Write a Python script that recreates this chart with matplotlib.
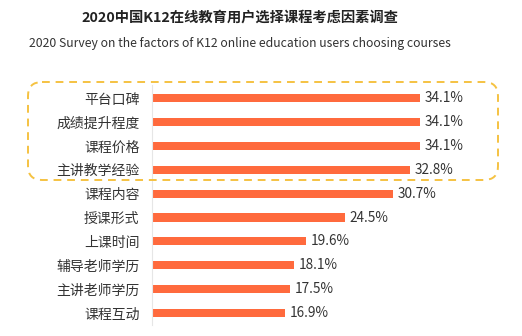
import matplotlib.pyplot as plt
from matplotlib.patches import FancyBboxPatch

# Survey factors and share of users (%)
factors = ["平台口碑", "成绩提升程度", "课程价格", "主讲教学经验", "课程内容",
           "授课形式", "上课时间", "辅导老师学历", "主讲老师学历", "课程互动"]
shares = [34.1, 34.1, 34.1, 32.8, 30.7, 24.5, 19.6, 18.1, 17.5, 16.9]

TITLE = "2020中国K12在线教育用户选择课程考虑因素调查"
SUBTITLE = "2020 Survey on the factors of K12 online education users choosing courses"

BAR_COLOR = "#FF6A3D"
TEXT_COLOR = "#333333"
BOX_COLOR = "#F5C242"

plt.rcParams['font.family'] = ['Noto Sans CJK SC', 'DejaVu Sans']

W, H = 522, 336
fig = plt.figure(figsize=(W / 100, H / 100), dpi=100)

# Bar chart area
ax = fig.add_axes([152 / W, 11 / H, (505 - 152) / W, 240 / H])
y = list(range(len(factors)))
ax.barh(y, shares, height=0.34, color=BAR_COLOR)
for yi, v in zip(y, shares):
    ax.text(v + 0.6, yi, f"{v}%", va="center", ha="left", fontsize=9.8, color=TEXT_COLOR)

ax.set_xlim(0, (505 - 152) / 7.86)
ax.set_ylim(9.5, -0.55)
ax.set_yticks(y)
ax.set_yticklabels(factors, fontsize=10, color=TEXT_COLOR)
ax.tick_params(axis="y", length=0, pad=9)
ax.set_xticks([])
for side in ["top", "right", "bottom"]:
    ax.spines[side].set_visible(False)
ax.spines["left"].set_color("#E6E6E6")
ax.spines["left"].set_linewidth(0.8)

# Overlay in pixel units for titles and the highlight box
ov = fig.add_axes([0, 0, 1, 1], facecolor="none")
ov.set_xlim(0, W)
ov.set_ylim(H, 0)
ov.axis("off")
ov.text(240, 18, TITLE, ha="center", va="center", fontsize=10.3,
        fontweight="bold", color="#222222")
ov.text(239.5, 44, SUBTITLE, ha="center", va="center", fontsize=8.8, color=TEXT_COLOR)

box = FancyBboxPatch((28, 82), 470, 98, boxstyle="round,pad=0,rounding_size=14",
                     fill=False, edgecolor=BOX_COLOR, linewidth=1.4,
                     linestyle=(0, (4, 3)))
ov.add_patch(box)

fig.savefig("out.png", dpi=100)
